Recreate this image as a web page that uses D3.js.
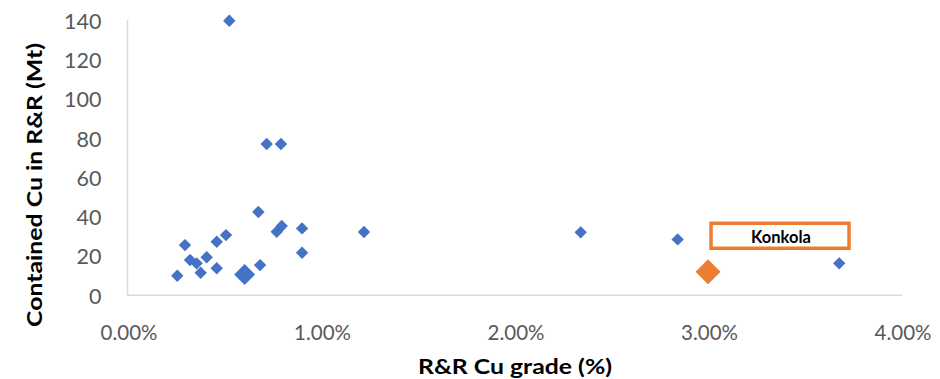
<!DOCTYPE html>
<html>
<head>
<meta charset="utf-8">
<script src="https://cdn.jsdelivr.net/npm/d3@7"></script>
<style>
  html, body { margin: 0; padding: 0; background: #fff; }
  svg { display: block; }
  text { font-family: Lato, "Open Sans", sans-serif; }
</style>
</head>
<body>
<svg id="chart" width="940" height="379"></svg>
<script>
// ---- data (grade in %, contained Cu in Mt) ----
const peerGrade = [0.252, 0.292, 0.318, 0.352, 0.373, 0.404, 0.456, 0.456, 0.504, 0.521,
                   0.671, 0.680, 0.714, 0.766, 0.788, 0.792, 0.897, 0.897, 1.217, 2.337, 2.838, 3.673];
const peerCu    = [10.0, 25.6, 18.0, 16.3, 11.5, 19.4, 27.3, 13.8, 30.7, 140.0,
                   42.5, 15.4, 77.1, 32.4, 77.1, 35.3, 34.1, 21.7, 32.3, 32.1, 28.5, 16.3];
const largeGrade = [0.600];
const largeCu    = [10.6];
const konkolaGrade = [2.995];
const konkolaCu    = [12.0];
const konkolaLabel = "Konkola";
const xTicks = [0, 1, 2, 3, 4];
const yTicks = [0, 20, 40, 60, 80, 100, 120, 140];
const xTitle = "R&R Cu grade (%)";
const yTitle = "Contained Cu in R&R (Mt)";

// ---- layout ----
const svg = d3.select("#chart");
const x = d3.scaleLinear().domain([0, 4]).range([128.5, 902.5]);
const y = d3.scaleLinear().domain([0, 140]).range([295.3, 20.7]);
const blue = "#4472C4", orange = "#ED7D31", axisCol = "#D9D9D9", tickCol = "#595959";

// axes lines
svg.append("line").attr("x1", x(0) - 1).attr("x2", x(4)).attr("y1", y(0)).attr("y2", y(0))
  .attr("stroke", axisCol).attr("stroke-width", 1.5);
svg.append("line").attr("x1", x(0) - 1).attr("x2", x(0) - 1).attr("y1", y(0)).attr("y2", y(140) - 1)
  .attr("stroke", axisCol).attr("stroke-width", 1.5);

// x tick labels
const xAxis = d3.axisBottom(x).tickValues(xTicks).tickSize(0).tickPadding(0)
  .tickFormat(d => d3.format(".2f")(d) + "%");
const gx = svg.append("g").attr("transform", `translate(0,${y(0)})`).call(xAxis);
gx.select(".domain").remove();
gx.selectAll("text").attr("dy", null).attr("y", 44.5).attr("fill", tickCol)
  .style("font-size", "20.5px").style("font-family", "Lato, 'Open Sans', sans-serif");

// y tick labels
const yAxis = d3.axisLeft(y).tickValues(yTicks).tickSize(0).tickPadding(0);
const gy = svg.append("g").attr("transform", `translate(101.5,0)`).call(yAxis);
gy.select(".domain").remove();
gy.selectAll("text").attr("x", 0).attr("dy", "0.36em").attr("fill", tickCol)
  .style("font-size", "21.5px").style("font-family", "Lato, 'Open Sans', sans-serif");

// diamonds
function diamond(cx, cy, r) {
  return `M${cx},${cy - r}L${cx + r},${cy}L${cx},${cy + r}L${cx - r},${cy}Z`;
}
svg.append("g").selectAll("path").data(d3.range(peerGrade.length)).join("path")
  .attr("d", i => diamond(x(peerGrade[i]), y(peerCu[i]), 6.2))
  .attr("fill", blue);
svg.append("g").selectAll("path").data(d3.range(largeGrade.length)).join("path")
  .attr("d", i => diamond(x(largeGrade[i]), y(largeCu[i]), 10.5))
  .attr("fill", blue);
svg.append("g").selectAll("path").data(d3.range(konkolaGrade.length)).join("path")
  .attr("d", i => diamond(x(konkolaGrade[i]), y(konkolaCu[i]), 12.5))
  .attr("fill", orange);

// Konkola label box
const boxX = x(konkolaGrade[0]) + 3, boxY = y(konkolaCu[0]) - 48.5;
svg.append("rect").attr("x", boxX).attr("y", boxY).attr("width", 138).attr("height", 25)
  .attr("fill", "#fff").attr("stroke", orange).attr("stroke-width", 3.5);
svg.append("text").attr("x", boxX + 70).attr("y", boxY + 19.5)
  .attr("text-anchor", "middle").attr("font-weight", 700).attr("font-size", "16.5px")
  .attr("fill", "#000").text(konkolaLabel);

// axis titles
svg.append("text").attr("x", 515).attr("y", 373.5).attr("text-anchor", "middle")
  .attr("font-weight", 700).attr("font-size", "21px").attr("fill", "#000")
  .attr("textLength", 194).attr("lengthAdjust", "spacingAndGlyphs").text(xTitle);
svg.append("text").attr("transform", "translate(41.5,185) rotate(-90)").attr("text-anchor", "middle")
  .attr("font-weight", 700).attr("font-size", "21px").attr("fill", "#000")
  .attr("textLength", 284).attr("lengthAdjust", "spacingAndGlyphs").text(yTitle);
</script>
</body>
</html>
